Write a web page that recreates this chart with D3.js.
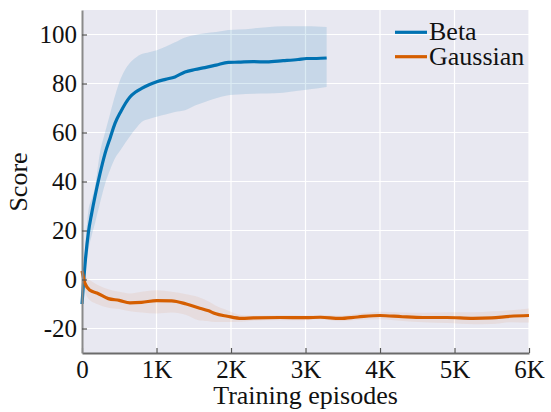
<!DOCTYPE html>
<html>
<head>
<meta charset="utf-8">
<script src="https://cdn.jsdelivr.net/npm/d3@7"></script>
<style>
  html, body { margin: 0; padding: 0; background: #ffffff; }
  svg { display: block; }
  svg text { font-family: "Liberation Serif", "DejaVu Serif", "Times New Roman", Times, serif; }
</style>
</head>
<body>
<svg id="chart" width="551" height="412"></svg>
<script>
// ---- Data ----
const betaEpisodes = [0, 40, 85, 130, 175, 240, 309, 380, 443, 520, 644, 720, 801, 900, 1003, 1120, 1248, 1383, 1517, 1650, 1800, 1964, 2100, 2300, 2479, 2700, 2900, 3016, 3150, 3284];
const betaMean  = [-10, 6, 19, 27, 34, 43, 51.4, 58, 63.7, 68.5, 74.5, 76.5, 78, 79.5, 80.7, 81.7, 82.7, 84.7, 85.7, 86.5, 87.5, 88.6, 88.7, 88.9, 88.8, 89.3, 89.8, 90.2, 90.2, 90.4];
const betaUpper = [-8, 12, 28, 33, 38, 51.5, 60, 68, 75, 82, 88.5, 90.5, 92, 92.8, 93.6, 95, 96.8, 98.8, 99.8, 100.5, 101, 101.8, 102, 102.5, 103, 103.4, 103.4, 103.4, 103.3, 103.1];
const betaLower = [-12, 2, 12, 18, 23, 31, 39, 45, 49.5, 53, 58.5, 61.5, 64.3, 65.5, 66.4, 67.3, 68.4, 69.1, 71, 72.5, 74, 75.2, 75.5, 75.8, 75.9, 76.2, 77, 77.5, 78, 78.6];

const gaussEpisodes = [0, 40, 107, 200, 353, 500, 644, 800, 1003, 1204, 1400, 1561, 1700, 1785, 1950, 2143, 2300, 2658, 3000, 3200, 3463, 3700, 4000, 4300, 4577, 4900, 5248, 5500, 5750, 6000];
const gaussMean  = [3.5, -1.6, -4.4, -5.5, -7.8, -8.5, -9.5, -9.3, -8.6, -8.7, -10, -11.5, -12.8, -13.9, -15, -15.9, -15.7, -15.5, -15.6, -15.4, -15.9, -15.3, -14.7, -15.2, -15.5, -15.5, -15.9, -15.7, -15.0, -14.7];
const gaussUpper = [5, 1.5, -0.3, -2, -4, -5, -5.7, -5, -4.4, -5, -6, -7.1, -9, -10.5, -12.5, -14.5, -14.8, -14.6, -14.7, -14.5, -14.8, -14, -13.2, -13.5, -13.6, -13.4, -13.4, -13, -12.5, -11.8];
const gaussLower = [2, -4.7, -8.5, -10, -11.5, -12, -13, -13.5, -13.9, -13.5, -14.5, -16.6, -17, -17.3, -17.3, -17.2, -16.8, -16.6, -16.6, -16.3, -17, -16.5, -16.2, -16.9, -17.4, -17.8, -18.3, -18.2, -17.4, -17.6];

const xTicks = [0, 1000, 2000, 3000, 4000, 5000, 6000];
const xTickLabels = ["0", "1K", "2K", "3K", "4K", "5K", "6K"];
const yTicks = [-20, 0, 20, 40, 60, 80, 100];
const yTickLabels = ["-20", "0", "20", "40", "60", "80", "100"];
const seriesNames = ["Beta", "Gaussian"];
const seriesColors = ["#0072B2", "#D55E00"];

// ---- Layout ----
const svg = d3.select("#chart");
const pLeft = 82, pRight = 529, pTop = 10, pBottom = 353;
const fs = 26, tfs = 25;

const x = d3.scaleLinear().domain([0, 6000]).range([pLeft, pRight]);
const y = d3.scaleLinear().domain([-30, 110]).range([pBottom, pTop]);

// background
svg.append("rect").attr("x", pLeft).attr("y", pTop)
  .attr("width", pRight - pLeft).attr("height", pBottom - pTop)
  .attr("fill", "#e8e8f1");

// grid
const g = svg.append("g");
g.selectAll(".vg").data(xTicks).enter().append("line")
  .attr("x1", d => x(d)).attr("x2", d => x(d)).attr("y1", pTop).attr("y2", pBottom)
  .attr("stroke", "#ffffff").attr("stroke-width", 1.2);
g.selectAll(".hg").data(yTicks).enter().append("line")
  .attr("x1", pLeft).attr("x2", pRight).attr("y1", d => y(d)).attr("y2", d => y(d))
  .attr("stroke", "#ffffff").attr("stroke-width", 1.2);

// series
const series = [
  {name: seriesNames[0], color: seriesColors[0], xs: betaEpisodes, m: betaMean, lo: betaLower, hi: betaUpper, bandOpacity: 0.14},
  {name: seriesNames[1], color: seriesColors[1], xs: gaussEpisodes, m: gaussMean, lo: gaussLower, hi: gaussUpper, bandOpacity: 0.08}
];

series.forEach(s => {
  const pts = s.xs.map((e, i) => ({e, m: s.m[i], lo: s.lo[i], hi: s.hi[i]}));
  svg.append("path").datum(pts)
    .attr("d", d3.area().x(d => x(d.e)).y0(d => y(d.lo)).y1(d => y(d.hi)).curve(d3.curveMonotoneX))
    .attr("fill", s.color).attr("fill-opacity", s.bandOpacity);
});
series.forEach(s => {
  const pts = s.xs.map((e, i) => ({e, m: s.m[i]}));
  svg.append("path").datum(pts)
    .attr("d", d3.line().x(d => x(d.e)).y(d => y(d.m)).curve(d3.curveMonotoneX))
    .attr("fill", "none").attr("stroke", s.color).attr("stroke-width", 3.2)
    .attr("stroke-linejoin", "round").attr("stroke-linecap", "butt");
});

// axes
const xAxis = d3.axisBottom(x).tickValues(xTicks).tickFormat((d, i) => xTickLabels[i])
  .tickSizeInner(-5).tickSizeOuter(0).tickPadding(7);
const xa = svg.append("g").attr("transform", `translate(0,${pBottom})`).call(xAxis);
xa.attr("font-family", null).attr("font-size", null);
xa.select(".domain").attr("stroke", "#6b6b6b").attr("stroke-width", 2);
xa.selectAll(".tick line").attr("stroke", "#555").attr("stroke-width", 1.2);
xa.selectAll("text").attr("font-size", tfs).attr("fill", "#111");

const yAxis = d3.axisLeft(y).tickValues(yTicks).tickFormat((d, i) => yTickLabels[i])
  .tickSizeInner(-5).tickSizeOuter(0).tickPadding(5);
const ya = svg.append("g").attr("transform", `translate(${pLeft},0)`).call(yAxis);
ya.attr("font-family", null).attr("font-size", null);
ya.select(".domain").attr("stroke", "#8a8a8a").attr("stroke-width", 2);
ya.selectAll(".tick line").attr("stroke", "#555").attr("stroke-width", 1.2);
ya.selectAll("text").attr("font-size", tfs).attr("fill", "#111");

// axis labels
svg.append("text").attr("x", (pLeft + pRight) / 2).attr("y", 404)
  .attr("text-anchor", "middle").attr("font-size", fs).attr("fill", "#111")
  .text("Training episodes");
svg.append("text").attr("transform", `translate(27,${182}) rotate(-90)`)
  .attr("text-anchor", "middle").attr("font-size", fs).attr("fill", "#111")
  .text("Score");

// legend
const lg = svg.append("g");
series.forEach((s, i) => {
  const ly = 32.3 + i * 24.4;
  lg.append("line").attr("x1", 395).attr("x2", 427).attr("y1", ly).attr("y2", ly)
    .attr("stroke", s.color).attr("stroke-width", 3.2);
  lg.append("text").attr("x", 429).attr("y", ly + 8)
    .attr("font-size", fs).attr("fill", "#111")
    .text(s.name);
});
</script>
</body>
</html>
